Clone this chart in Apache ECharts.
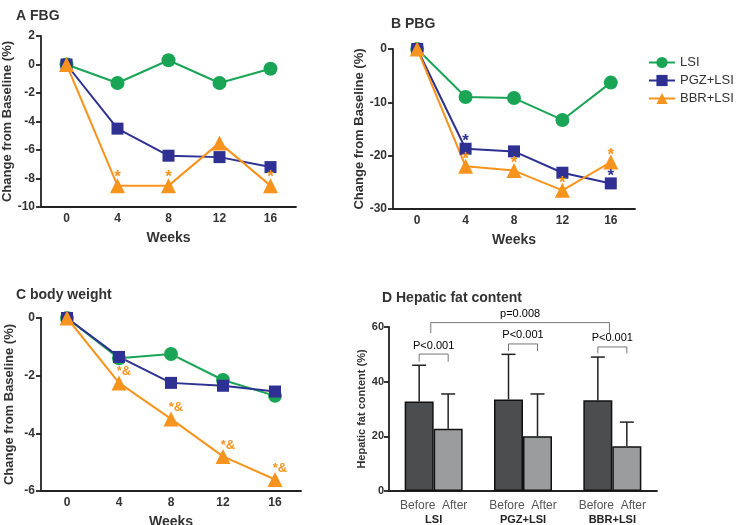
<!DOCTYPE html>
<html>
<head>
<meta charset="utf-8">
<script src="https://cdn.jsdelivr.net/npm/echarts@6/dist/echarts.min.js"></script>
<style>
  html, body { margin: 0; padding: 0; background: #fff; }
  #chart { width: 737px; height: 525px; }
</style>
</head>
<body>
<div id="chart"></div>
<script>
// weeks shared by panels A-C
const weeks = ['0', '4', '8', '12', '16']

// A FBG
const fbgLSI = [0, -1.3, 0.3, -1.3, -0.3]
const fbgPGZ = [0, -4.5, -6.4, -6.5, -7.2]
const fbgBBR = [0, -8.5, -8.5, -5.5, -8.5]
const fbgBBRMarks = ['', '*', '*', '', '*']

// B PBG
const pbgLSI = [0, -9.0, -9.2, -13.3, -6.3]
const pbgPGZ = [0, -18.7, -19.2, -23.2, -25.2]
const pbgBBR = [0, -22.0, -22.8, -26.5, -21.2]
const pbgPGZMarks = ['', '*', '', '', '*']
const pbgBBRMarks = ['', '*', '*', '*', '*']

// C body weight
const bwLSI = [0, -1.4, -1.25, -2.15, -2.7]
const bwPGZ = [0, -1.35, -2.25, -2.35, -2.55]
const bwBBR = [0, -2.25, -3.5, -4.8, -5.6]
const bwBBRMarks = ['', '*&', '*&', '*&', '*&']

// D hepatic fat
const groups = ['LSI', 'PGZ+LSI', 'BBR+LSI']
const fatBefore = [32.7, 33.5, 33.2]
const fatAfter = [22.8, 20.0, 16.4]
const fatBeforeErr = [46.0, 50.0, 49.0]
const fatAfterErr = [35.5, 35.5, 25.2]
// [group1, side1, group2, side2, top, legBottom, text]
const brackets = [
  [0, -0.5, 0, 0.5, 50.1, 47.3, 'P<0.001'],
  [1, -0.5, 1, 0.5, 53.8, 51.2, 'P<0.001'],
  [2, -0.5, 2, 0.5, 52.7, 50.4, 'P<0.001'],
  [0, -0.1, 2, -0.1, 61.6, 57.8, 'p=0.008']
]

const GREEN = '#1aa556'
const NAVY = '#2e3192'
const ORANGE = '#f7941d'
const FONT = 'Arial, "Liberation Sans", sans-serif'
const BAR_W = 29

const chart = echarts.init(document.getElementById('chart'))

const axisLine = { onZero: false, lineStyle: { color: '#222', width: 1.8 } }
const tickStyle = { length: 5, lineStyle: { color: '#222', width: 1.8 } }

const weekAxis = (gridIndex) => ({
  type: 'category', gridIndex, data: weeks, boundaryGap: true,
  name: 'Weeks', nameLocation: 'middle', nameGap: 24,
  nameTextStyle: { fontFamily: FONT, fontWeight: 'bold', fontSize: 14, color: '#333' },
  axisLine, axisTick: { ...tickStyle, alignWithLabel: true },
  axisLabel: { fontFamily: FONT, fontWeight: 'bold', fontSize: 12, color: '#333', margin: 6 }
})

const changeAxis = (gridIndex, min, max, interval) => ({
  type: 'value', gridIndex, min, max, interval,
  name: 'Change from Baseline (%)', nameLocation: 'middle', nameGap: 25,
  nameTextStyle: { fontFamily: FONT, fontWeight: 'bold', fontSize: 13, color: '#333' },
  axisLine: { show: true, ...axisLine }, axisTick: { show: true, ...tickStyle },
  splitLine: { show: false },
  axisLabel: { fontFamily: FONT, fontWeight: 'bold', fontSize: 12, color: '#333', margin: 6 }
})

const withMarks = (vals, marks, color, size, offset) => vals.map((v, i) => marks && marks[i] ? {
  value: v,
  label: { show: true, position: 'inside', offset, formatter: marks[i], color, fontSize: size, fontWeight: 'bold', fontFamily: FONT }
} : v)

const lineSeries = (idx, lsi, pgz, bbr, pgzMarks, bbrMarks, markSize, offset) => [
  { name: 'LSI', type: 'line', xAxisIndex: idx, yAxisIndex: idx, data: lsi,
    symbol: 'circle', symbolSize: 14, itemStyle: { color: GREEN }, lineStyle: { color: GREEN, width: 2 } },
  { name: 'PGZ+LSI', type: 'line', xAxisIndex: idx, yAxisIndex: idx, data: withMarks(pgz, pgzMarks, NAVY, markSize, offset),
    symbol: 'rect', symbolSize: 12, itemStyle: { color: NAVY }, lineStyle: { color: NAVY, width: 2 } },
  { name: 'BBR+LSI', type: 'line', xAxisIndex: idx, yAxisIndex: idx, data: withMarks(bbr, bbrMarks, ORANGE, markSize, offset),
    symbol: 'triangle', symbolSize: 15, itemStyle: { color: ORANGE }, lineStyle: { color: ORANGE, width: 2 } }
]

const errorData = []
groups.forEach((g, i) => {
  errorData.push([i, -1, fatBefore[i], fatBeforeErr[i]])
  errorData.push([i, 1, fatAfter[i], fatAfterErr[i]])
})

const greyText = { fontFamily: FONT, fontSize: 11, color: '#555' }

const option = {
  animation: false,
  backgroundColor: '#fff',
  title: [
    { text: 'A FBG', left: 11, top: 4 },
    { text: 'B PBG', left: 386, top: 12 },
    { text: 'C body weight', left: 11, top: 283 },
    { text: 'D Hepatic fat content', left: 377, top: 286 }
  ].map(t => ({ ...t, textStyle: { fontFamily: FONT, fontWeight: 'bold', fontSize: 14, color: '#333' } })),
  legend: {
    data: ['LSI', 'PGZ+LSI', 'BBR+LSI'],
    orient: 'vertical', left: 643, top: 51, itemGap: 5, itemWidth: 26, itemHeight: 14,
    textStyle: { fontFamily: FONT, fontSize: 13, color: '#333' }
  },
  grid: [
    { left: 41, top: 36, width: 255, height: 171 },
    { left: 393, top: 49, width: 242, height: 160 },
    { left: 41, top: 318, width: 260, height: 173 },
    { left: 389, top: 327, width: 268, height: 164 }
  ].map(g => ({ ...g, outerBoundsMode: 'none', containLabel: false })),
  xAxis: [
    weekAxis(0), weekAxis(1), weekAxis(2),
    { type: 'category', gridIndex: 3, data: groups, boundaryGap: true,
      axisLine, axisTick: { show: false },
      axisLabel: {
        margin: 8, interval: 0,
        formatter: v => '{a|Before}  {a|After}\n{b|' + v + '}',
        rich: {
          a: { fontFamily: FONT, fontSize: 12, color: '#555', lineHeight: 14 },
          b: { fontFamily: FONT, fontSize: 11, fontWeight: 'bold', color: '#222', lineHeight: 14 }
        }
      } }
  ],
  yAxis: [
    changeAxis(0, -10, 2, 2),
    changeAxis(1, -30, 0, 10),
    changeAxis(2, -6, 0, 2),
    { type: 'value', gridIndex: 3, min: 0, max: 60, interval: 20,
      name: 'Hepatic fat content (%)', nameLocation: 'middle', nameGap: 22,
      nameTextStyle: { fontFamily: FONT, fontWeight: 'bold', fontSize: 11, color: '#333' },
      axisLine: { show: true, ...axisLine }, axisTick: { show: true, ...tickStyle },
      splitLine: { show: false },
      axisLabel: { fontFamily: FONT, fontWeight: 'bold', fontSize: 11, color: '#333', margin: 5 } }
  ],
  series: [
    ...lineSeries(0, fbgLSI, fbgPGZ, fbgBBR, null, fbgBBRMarks, 17, [0, -8]),
    ...lineSeries(1, pbgLSI, pbgPGZ, pbgBBR, pbgPGZMarks, pbgBBRMarks, 17, [0, -7]),
    ...lineSeries(2, bwLSI, bwPGZ, bwBBR, null, bwBBRMarks, 13, [5, -11]),
    { name: 'Before', type: 'bar', xAxisIndex: 3, yAxisIndex: 3, data: fatBefore,
      barWidth: BAR_W, barGap: 0, itemStyle: { color: '#4b4d4f', borderColor: '#111', borderWidth: 1.5 } },
    { name: 'After', type: 'bar', xAxisIndex: 3, yAxisIndex: 3, data: fatAfter,
      barWidth: BAR_W, barGap: 0, itemStyle: { color: '#9a9c9e', borderColor: '#111', borderWidth: 1.5 } },
    { name: 'err', type: 'custom', xAxisIndex: 3, yAxisIndex: 3, data: errorData, z: 1,
      renderItem: (params, api) => {
        const p0 = api.coord([api.value(0), api.value(2)])
        const p1 = api.coord([api.value(0), api.value(3)])
        const x = p0[0] + api.value(1) * BAR_W / 2
        const style = { stroke: '#222', lineWidth: 1.5 }
        return { type: 'group', children: [
          { type: 'line', shape: { x1: x, y1: p0[1], x2: x, y2: p1[1] }, style },
          { type: 'line', shape: { x1: x - 7, y1: p1[1], x2: x + 7, y2: p1[1] }, style }
        ] }
      } },
    { name: 'brackets', type: 'custom', xAxisIndex: 3, yAxisIndex: 3, clip: false,
      data: brackets.map(b => b.slice(0, 6)),
      renderItem: (params, api) => {
        const b = brackets[params.dataIndex]
        const a = api.coord([b[0], b[4]])
        const c = api.coord([b[2], b[4]])
        const yl = api.coord([b[0], b[5]])[1]
        const x1 = a[0] + b[1] * BAR_W
        const x2 = c[0] + b[3] * BAR_W
        const style = { stroke: '#777', lineWidth: 1, fill: null }
        return { type: 'group', children: [
          { type: 'polyline', shape: { points: [[x1, yl], [x1, a[1]], [x2, a[1]], [x2, yl]] }, style },
          { type: 'text', style: { text: b[6], x: (x1 + x2) / 2, y: a[1] - 3, align: 'center', verticalAlign: 'bottom', ...greyText } }
        ] }
      } }
  ]
}

chart.setOption(option)
</script>
</body>
</html>
